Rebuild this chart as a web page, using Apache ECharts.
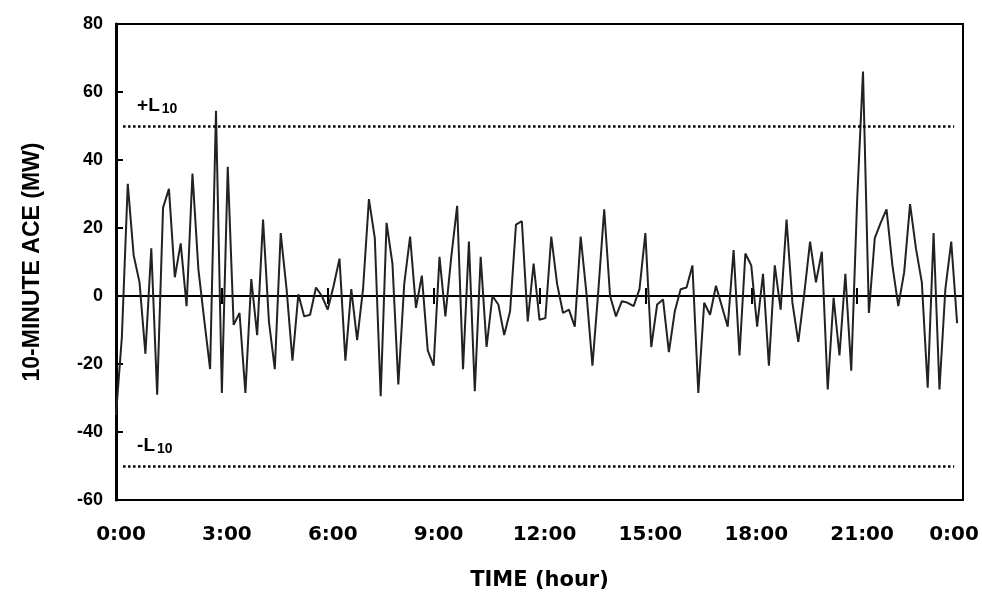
<!doctype html>
<html>
    <head>
        <meta charset="utf-8">
        <title>10-minute ACE</title>
        <style>
            html, body { margin: 0; padding: 0; background: #fff; }
            #main { width: 982px; height: 596px; }
        </style>
    </head>
    <body>
        <div id="main"></div>
        <script src="https://cdn.jsdelivr.net/npm/echarts@6/dist/echarts.min.js"></script>
        <script>
            // 10-minute ACE samples, one per 10 minutes from 0:00 to 23:50
            var aceValues = [
                -35, -12, 33, 12, 4, -17, 14, -29, 26, 31.5,
                5.5, 15.5, -3, 36, 8, -7, -21.5, 54.5, -28.5, 38,
                -8.5, -5, -28.5, 5, -11.5, 22.5, -7.5, -21.5, 18.5, 2,
                -19, 0.5, -6, -5.5, 2.5, 0, -4, 3, 11, -19,
                2, -13, 2, 28.5, 17, -29.5, 21.5, 9.5, -26, 3.5,
                17.5, -3.5, 6, -16, -20.5, 11.5, -6, 11.5, 26.5, -21.5,
                16, -28, 11.5, -15, 0, -2.5, -11.5, -4.5, 21, 22,
                -7.5, 9.5, -7, -6.5, 17.5, 3.5, -5, -4, -9, 17.5,
                0.5, -20.5, 1.5, 25.5, 0, -6, -1.5, -2, -3, 2,
                18.5, -15, -2.5, -1, -16.5, -4.5, 2, 2.5, 9, -28.5,
                -2, -5.5, 3, -3, -9, 13.5, -17.5, 12.5, 9, -9,
                6.5, -20.5, 9, -4, 22.5, -2, -13.5, 0.5, 16, 4,
                13, -27.5, -0.5, -17.5, 6.5, -22, 28, 66, -5, 17,
                21.5, 25.5, 9, -3, 7, 27, 14, 4, -27, 18.5,
                -27.5, 2, 16, -8
            ];
            var timeLabels = ['0:00', '3:00', '6:00', '9:00', '12:00', '15:00', '18:00', '21:00', '0:00'];
            var limitNames = ['+L', '-L'];
            var limitValues = [50, -50];
            var stepsPerDay = 144;
            var stepsPerLabel = 18;

            var chart = echarts.init(document.getElementById('main'));
            var font = '"Liberation Sans", Arial, sans-serif';
            var wideFont = '"DejaVu Sans", sans-serif';

            var seriesData = aceValues.map(function (v, i) { return [i, v]; });

            var limitLines = limitValues.map(function (v, k) {
                return [{
                    coord: [1.2, v],
                    label: {
                        show: true,
                        position: 'insideStartTop',
                        distance: [14, 10],
                        formatter: '{m|' + limitNames[k] + '}{s|10}',
                        rich: {
                            m: { fontFamily: font, fontWeight: 'bold', fontSize: 19, color: '#000' },
                            s: { fontFamily: font, fontWeight: 'bold', fontSize: 14, color: '#000', verticalAlign: 'bottom', padding: [7, 0, 0, 2] }
                        }
                    }
                }, {
                    coord: [stepsPerDay - 1.5, v]
                }];
            });

            function xLabel(value) {
                var idx = Math.round(value / stepsPerLabel);
                var txt = timeLabels[idx];
                if (idx === timeLabels.length - 1) return '{e|' + txt + '}';
                return '{n|' + txt + '}';
            }

            var labelRich = {
                n: { fontFamily: wideFont, fontWeight: 'bold', fontSize: 20, color: '#000', padding: [0, 0, 0, 10] },
                e: { fontFamily: wideFont, fontWeight: 'bold', fontSize: 20, color: '#000', padding: [0, 18, 0, 0] }
            };

            var zeroAxisBase = {
                type: 'value',
                min: 0,
                max: stepsPerDay,
                interval: stepsPerLabel,
                position: 'bottom',
                axisLabel: { show: false },
                splitLine: { show: false }
            };

            chart.setOption({
                animation: false,
                backgroundColor: '#fff',
                grid: {
                    left: 116,
                    right: 19,
                    top: 24,
                    bottom: 94,
                    show: true,
                    borderColor: '#000',
                    borderWidth: 2
                },
                xAxis: [{
                    type: 'value',
                    min: 0,
                    max: stepsPerDay,
                    interval: stepsPerLabel,
                    position: 'bottom',
                    axisLine: { show: false, onZero: false },
                    axisTick: { show: false },
                    splitLine: { show: false },
                    axisLabel: {
                        margin: 25,
                        formatter: xLabel,
                        rich: labelRich
                    },
                    name: 'TIME (hour)',
                    nameLocation: 'middle',
                    nameGap: 70,
                    nameTextStyle: { fontFamily: wideFont, fontWeight: 'bold', fontSize: 21, color: '#000' }
                }, Object.assign({}, zeroAxisBase, {
                    axisLine: { show: true, onZero: true, onZeroAxisIndex: 0, lineStyle: { color: '#000', width: 2 } },
                    axisTick: { show: true, inside: true, length: 8, lineStyle: { color: '#000', width: 2 } }
                }), Object.assign({}, zeroAxisBase, {
                    axisLine: { show: true, onZero: true, onZeroAxisIndex: 1, lineStyle: { color: '#000', width: 2 } },
                    axisTick: { show: true, inside: false, length: 8, lineStyle: { color: '#000', width: 2 } }
                })],
                yAxis: [{
                    type: 'value',
                    min: -60,
                    max: 80,
                    interval: 20,
                    axisLine: { show: true, lineStyle: { color: '#000', width: 3 } },
                    axisTick: { show: true, inside: true, length: 7, lineStyle: { color: '#000', width: 2 } },
                    splitLine: { show: false },
                    axisLabel: {
                        margin: 13,
                        fontFamily: font,
                        fontWeight: 'bold',
                        fontSize: 18,
                        color: '#000'
                    },
                    name: '10-MINUTE ACE (MW)',
                    nameLocation: 'middle',
                    nameGap: 72,
                    nameTextStyle: { fontFamily: font, fontWeight: 'bold', fontSize: 23, color: '#000' }
                }, {
                    type: 'value',
                    min: -60,
                    max: 80,
                    interval: 20,
                    position: 'left',
                    show: false
                }],
                series: [{
                    type: 'line',
                    xAxisIndex: 0,
                    yAxisIndex: 0,
                    data: seriesData,
                    showSymbol: false,
                    symbol: 'none',
                    lineStyle: { color: '#222', width: 2 },
                    z: 3,
                    markLine: {
                        silent: true,
                        symbol: ['none', 'none'],
                        lineStyle: { color: '#000', width: 2.5, type: [2.5, 2.5] },
                        data: limitLines
                    }
                }]
            });

            window.addEventListener('resize', chart.resize);
        </script>
    </body>
</html>
